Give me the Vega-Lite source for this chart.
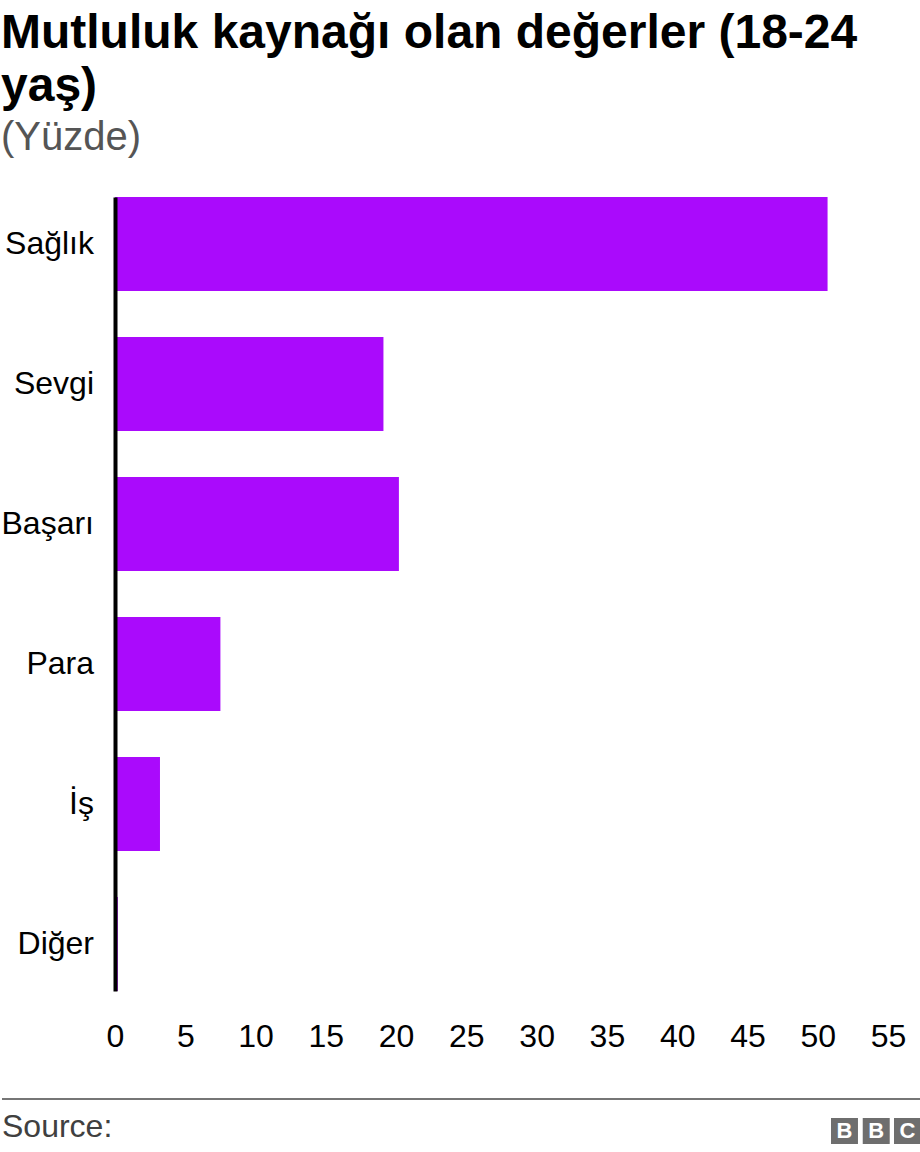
{
  "$schema": "https://vega.github.io/schema/vega-lite/v6.json",
  "padding": {"top": 10, "left": 0, "right": 0, "bottom": 0},
  "background": "#ffffff",
  "title": {
    "text": ["Mutluluk kaynağı olan değerler (18-24", "yaş)"],
    "subtitle": "(Yüzde)",
    "anchor": "start",
    "font": "Liberation Sans",
    "fontSize": 48,
    "fontWeight": "bold",
    "color": "#000000",
    "lineHeight": 53,
    "subtitleFont": "Liberation Sans",
    "subtitleFontSize": 40,
    "subtitleColor": "#555555",
    "subtitlePadding": 7,
    "offset": 39
  },
  "config": {
    "view": {"stroke": null},
    "font": "Liberation Sans"
  },
  "spacing": 46,
  "vconcat": [
    {
      "width": 773,
      "height": 794,
      "data": {
        "values": [
          {"category": "Sağlık", "value": 50.7},
          {"category": "Sevgi", "value": 19.1},
          {"category": "Başarı", "value": 20.2},
          {"category": "Para", "value": 7.5},
          {"category": "İş", "value": 3.2},
          {"category": "Diğer", "value": 0.2}
        ]
      },
      "mark": {"type": "bar", "color": "#aa0afc"},
      "encoding": {
        "y": {
          "field": "category",
          "type": "nominal",
          "sort": null,
          "scale": {"paddingInner": 0.3286, "paddingOuter": 0},
          "axis": {
            "title": null,
            "domainColor": "#000000",
            "domainWidth": 4,
            "ticks": false,
            "tickSize": 0,
            "labelFont": "Liberation Sans",
            "labelFontSize": 32,
            "labelColor": "#000000",
            "labelPadding": 21.5,
            "zindex": 1
          }
        },
        "x": {
          "field": "value",
          "type": "quantitative",
          "scale": {"domain": [0, 55], "nice": false},
          "axis": {
            "title": null,
            "values": [0, 5, 10, 15, 20, 25, 30, 35, 40, 45, 50, 55],
            "grid": false,
            "domain": false,
            "ticks": false,
            "tickSize": 0,
            "labelFlush": false,
            "labelFont": "Liberation Sans",
            "labelFontSize": 32,
            "labelColor": "#000000",
            "labelPadding": 30
          }
        }
      }
    },
    {
      "width": 806,
      "height": 55,
      "data": {"values": [{}]},
      "layer": [
        {
          "mark": {"type": "rule", "color": "#767676", "strokeWidth": 2, "strokeCap": "butt"},
          "encoding": {
            "x": {"datum": -0.1402, "type": "quantitative", "scale": {"domain": [0, 1], "nice": false, "zero": false}, "axis": null},
            "x2": {"datum": 1},
            "y": {"datum": 0, "type": "quantitative", "scale": {"domain": [0, 1], "reverse": true, "nice": false}, "axis": null}
          }
        },
        {
          "mark": {"type": "text", "text": "Source:", "align": "left", "baseline": "alphabetic", "fontSize": 32, "color": "#404040", "font": "Liberation Sans"},
          "encoding": {
            "x": {"datum": -0.1402, "type": "quantitative"},
            "y": {"datum": 0.69, "type": "quantitative"}
          }
        },
        {
          "mark": {"type": "rect", "color": "#6e6e6e"},
          "encoding": {
            "x": {"datum": 0.8883, "type": "quantitative"},
            "x2": {"datum": 0.9218},
            "y": {"datum": 0.345, "type": "quantitative"},
            "y2": {"datum": 0.818}
          }
        },
        {
          "mark": {"type": "rect", "color": "#6e6e6e"},
          "encoding": {
            "x": {"datum": 0.9277, "type": "quantitative"},
            "x2": {"datum": 0.9612},
            "y": {"datum": 0.345, "type": "quantitative"},
            "y2": {"datum": 0.818}
          }
        },
        {
          "mark": {"type": "rect", "color": "#6e6e6e"},
          "encoding": {
            "x": {"datum": 0.9665, "type": "quantitative"},
            "x2": {"datum": 1.0},
            "y": {"datum": 0.345, "type": "quantitative"},
            "y2": {"datum": 0.818}
          }
        },
        {
          "mark": {"type": "text", "text": "B", "align": "center", "baseline": "middle", "fontSize": 22, "fontWeight": "bold", "color": "#ffffff", "font": "Liberation Sans"},
          "encoding": {
            "x": {"datum": 0.9051, "type": "quantitative"},
            "y": {"datum": 0.59, "type": "quantitative"}
          }
        },
        {
          "mark": {"type": "text", "text": "B", "align": "center", "baseline": "middle", "fontSize": 22, "fontWeight": "bold", "color": "#ffffff", "font": "Liberation Sans"},
          "encoding": {
            "x": {"datum": 0.9444, "type": "quantitative"},
            "y": {"datum": 0.59, "type": "quantitative"}
          }
        },
        {
          "mark": {"type": "text", "text": "C", "align": "center", "baseline": "middle", "fontSize": 22, "fontWeight": "bold", "color": "#ffffff", "font": "Liberation Sans"},
          "encoding": {
            "x": {"datum": 0.9832, "type": "quantitative"},
            "y": {"datum": 0.59, "type": "quantitative"}
          }
        }
      ]
    }
  ]
}
